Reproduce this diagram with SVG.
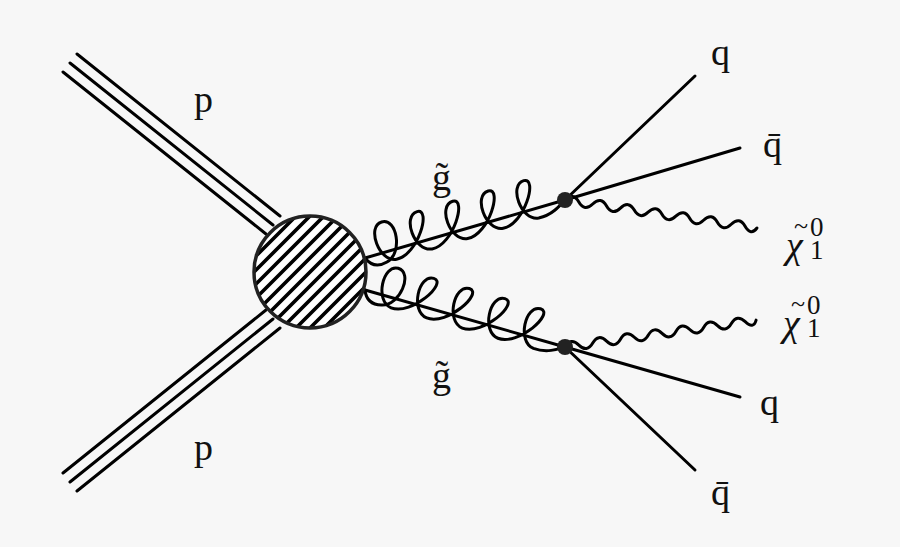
<svg xmlns="http://www.w3.org/2000/svg" width="900" height="547" viewBox="0 0 900 547">
<defs>
<clipPath id="cc"><circle cx="310" cy="272" r="56"/></clipPath>
<path id="gw" d="M0,0 C4,10 12,12 20,10 C38,6 42,-30 26,-30 C10,-30 12,8 30,10 C52,12 78,-30 63,-30 C47,-30 49,8 67,10 C89,12 115,-30 100,-30 C84,-30 86,8 104,10 C126,12 152,-30 137,-30 C121,-30 123,8 141,10 C163,12 189,-30 174,-30 C158,-30 160,8 178,10 C192,11 202,4 208,0"/>
</defs>
<style>
.l{stroke:#000;stroke-width:3;fill:none;stroke-linecap:round}
.t{font-family:"Liberation Serif",serif;font-size:38px;fill:#111}
</style>
<rect width="900" height="547" fill="#f7f7f7"/>
<g id="connectors" class="l">
<g id="p1"><line x1="63" y1="72" x2="266" y2="234"/><line x1="70" y1="63" x2="273" y2="225"/><line x1="77" y1="54" x2="280" y2="216"/></g>
<g id="p2"><line x1="63" y1="473" x2="266" y2="310"/><line x1="70" y1="482" x2="273" y2="319"/><line x1="77" y1="491" x2="280" y2="328"/></g>
<g id="gl1" transform="translate(365,258) rotate(-16.2)">
<line x1="0" y1="0" x2="208" y2="0"/>
<use href="#gw"/>
</g>
<g id="gl2" transform="translate(365,290) rotate(15.9)">
<line x1="0" y1="0" x2="208" y2="0"/>
<use href="#gw"/>
</g>
<g transform="translate(565,200) rotate(8.3)">
<path d="M0,0 Q7,-9 14,0 T28,0 T42,0 T56,0 T70,0 T84,0 T98,0 T112,0 T126,0 T140,0 T154,0 T168,0 T182,0 T194,0"/>
</g>
<g transform="translate(565,347) rotate(-8)">
<path d="M0,0 Q7,-9 14,0 T28,0 T42,0 T56,0 T70,0 T84,0 T98,0 T112,0 T126,0 T140,0 T154,0 T168,0 T182,0 T193,0"/>
</g>
<line x1="565" y1="200" x2="695" y2="76"/>
<line x1="565" y1="200" x2="740" y2="148"/>
<line x1="565" y1="347" x2="740" y2="397"/>
<line x1="565" y1="347" x2="695" y2="470"/>
</g>
<g id="blob">
<circle cx="310" cy="272" r="56" fill="#fff"/>
<g clip-path="url(#cc)" stroke="#000" stroke-width="3.6">
<path d="M130,270 L310,90 M137,277 L317,97 M144,284 L324,104 M151,291 L331,111 M158,298 L338,118 M165,305 L345,125 M172,312 L352,132 M179,319 L359,139 M186,326 L366,146 M193,333 L373,153 M200,340 L380,160 M207,347 L387,167 M214,354 L394,174 M221,361 L401,181 M228,368 L408,188 M235,375 L415,195 M242,382 L422,202 M249,389 L429,209 M256,396 L436,216 M263,403 L443,223 M270,410 L450,230 M277,417 L457,237 M284,424 L464,244 M291,431 L471,251"/>
</g>
<circle cx="310" cy="272" r="56" fill="none" stroke="#222" stroke-width="3.5"/>
</g>
<g id="v1"><circle cx="565" cy="200" r="8" fill="#222"/></g>
<g id="v2"><circle cx="565" cy="347" r="8" fill="#222"/></g>
<g id="labels" class="t">
<text x="194" y="112">p</text>
<text x="194" y="460">p</text>
<text x="432" y="190">g̃</text>
<text x="432" y="388">g̃</text>
<text x="711" y="65">q</text>
<text x="763" y="157">q̄</text>
<text x="786" y="258" font-style="italic">χ</text>
<text x="794" y="234" font-size="26">~</text>
<text x="810" y="236" font-size="27">0</text>
<text x="810" y="259" font-size="27">1</text>
<text x="783" y="336" font-style="italic">χ</text>
<text x="791" y="312" font-size="26">~</text>
<text x="807" y="314" font-size="27">0</text>
<text x="807" y="337" font-size="27">1</text>
<text x="760" y="415">q</text>
<text x="711" y="505">q̄</text>
</g>
</svg>
